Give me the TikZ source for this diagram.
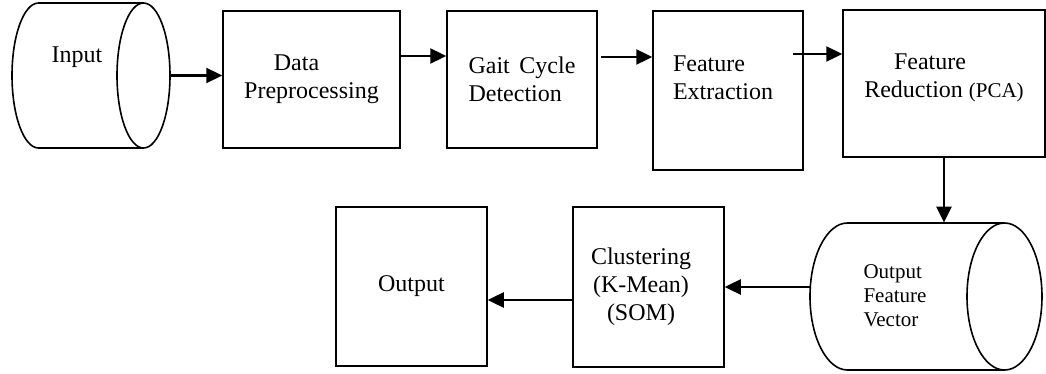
\documentclass[tikz,border=0pt]{standalone}
\usepackage{fontspec}
\setmainfont{Liberation Serif}
\usetikzlibrary{arrows.meta}
\begin{document}
\begin{tikzpicture}[x=0.5pt,y=0.5pt,
  line/.style={line width=0.8pt},
  box/.style={draw,line width=0.75pt,inner sep=0pt,font=\fontsize{12}{14}\selectfont,align=center},
  inv/.style={draw=none,inner sep=0pt},
  txt/.style={inner sep=0pt,font=\fontsize{12}{14}\selectfont},
  small/.style={inner sep=0pt,font=\fontsize{10.5}{12}\selectfont},
  arr/.style={line width=1.2pt,-{Triangle[length=8pt,width=7.5pt]}}]
\useasboundingbox (0,0) rectangle (1046,-374);
% Input cylinder
\node[inv,minimum width=79pt,minimum height=72.5pt] (in) at (91,-75.5) {};
\draw[line] (143.5,-3) -- (38.5,-3) arc[start angle=90,end angle=270,x radius=13.25pt,y radius=36.25pt] -- (143.5,-148);
\draw[line] (143.5,-75.5) ellipse[x radius=13.25pt,y radius=36.25pt];
\node[txt] (intxt) at (77,-57) {Input};
% boxes
\node[box,minimum width=88.5pt,minimum height=68.5pt] (data) at (311.5,-79.5) {Data\hspace*{15pt}\\Preprocessing};
\node[box,minimum width=75pt,minimum height=68.5pt,align=left] (gait) at (522,-79.5) {Gait\hspace{0.4em}Cycle\\Detection};
\node[box,minimum width=75pt,minimum height=79.5pt] (fe) at (728,-90.5) {};
\node[txt,align=left] (fetxt) at (723,-78) {Feature\\Extraction};
\node[box,minimum width=101pt,minimum height=73.5pt] (fr) at (944,-83.5) {};
\node[txt,align=center] (frtxt) at (944,-78) {Feature\hspace*{14pt}\\Reduction {\fontsize{10.5}{12}\selectfont(PCA)}};
% Output feature vector cylinder
\node[inv,minimum width=116pt,minimum height=73.5pt] (ofv) at (926,-296.5) {};
\draw[line] (1004.5,-223) -- (847.5,-223) arc[start angle=90,end angle=270,x radius=18.75pt,y radius=36.75pt] -- (1004.5,-370);
\draw[line] (1004.5,-296.5) ellipse[x radius=18.75pt,y radius=36.75pt];
\node[small,align=left] (ofvtxt) at (895,-296) {Output\\Feature\\Vector};
% bottom boxes
\node[box,minimum width=75.5pt,minimum height=80pt] (clus) at (648.5,-287) {};
\node[txt,align=center] (clustxt) at (641,-287) {Clustering\\(K-Mean)\\(SOM)};
\node[box,minimum width=75.5pt,minimum height=79.5pt] (out) at (411.5,-286.5) {Output};
% connectors
\draw[arr] (in.east) -- (in.east -| data.west);
\draw[arr] ([yshift=11.75pt]data.east) -- ([yshift=11.75pt]data.east -| gait.west);
\draw[arr] ([xshift=1.5pt,yshift=11.25pt]gait.east) -- ([yshift=11.25pt]gait.east -| fe.west);
\draw[arr] ([xshift=-5.5pt,yshift=18.25pt]fe.east) -- ([yshift=18.25pt]fe.east -| fr.west);
\draw[arr] (fr.south) -- (fr.south |- ofv.north);
\draw[arr] (clus.east -| ofv.west) -- (clus.east);
\draw[arr] ([yshift=-6.5pt]clus.west) -- ([yshift=-6.5pt]clus.west -| out.east);
\end{tikzpicture}
\end{document}
